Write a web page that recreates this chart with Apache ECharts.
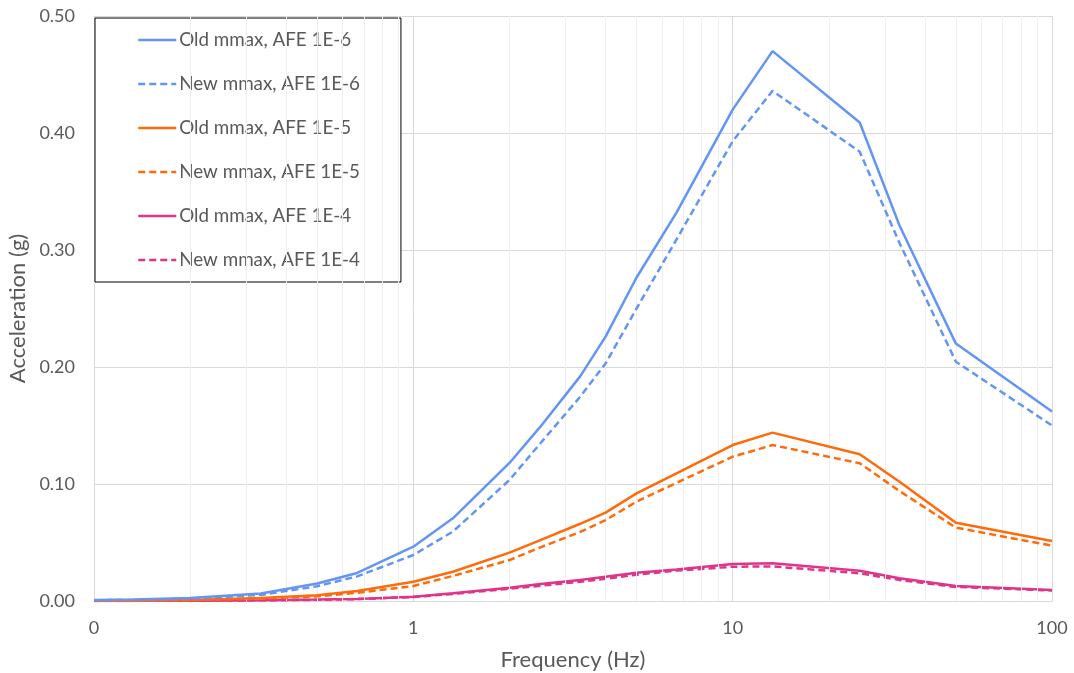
<!DOCTYPE html>
<html>
<head>
<meta charset="utf-8">
<script src="https://cdn.jsdelivr.net/npm/echarts@6/dist/echarts.min.js"></script>
<style>html,body{margin:0;padding:0;background:#fff}#c{width:1074px;height:673px}</style>
</head>
<body>
<div id="c"></div>
<script>
const freqs = [0.1, 0.133, 0.2, 0.333, 0.5, 0.667, 1, 1.33, 2, 2.5, 3.33, 4, 5, 6.67, 10, 13.33, 25, 33.3, 50, 100];
const oldAfe6 = [0.0008, 0.0012, 0.0025, 0.0065, 0.0150, 0.0240, 0.0464, 0.0707, 0.118, 0.149, 0.192, 0.226, 0.2765, 0.332, 0.420, 0.470, 0.409, 0.321, 0.220, 0.162];
const newAfe6 = [0.0006, 0.0010, 0.0020, 0.0052, 0.0126, 0.0210, 0.0393, 0.0593, 0.1034, 0.1348, 0.1746, 0.203, 0.250, 0.309, 0.393, 0.436, 0.384, 0.306, 0.2045, 0.150];
const oldAfe5 = [0.0002, 0.0003, 0.0008, 0.0025, 0.0050, 0.0085, 0.0165, 0.0250, 0.0413, 0.0521, 0.0660, 0.0755, 0.0920, 0.109, 0.1333, 0.1439, 0.1254, 0.102, 0.0669, 0.0513];
const newAfe5 = [0.0002, 0.0003, 0.0007, 0.0020, 0.0040, 0.0070, 0.0128, 0.0214, 0.0350, 0.0459, 0.0590, 0.0692, 0.0849, 0.101, 0.1233, 0.1333, 0.1177, 0.094, 0.0627, 0.0473];
const oldAfe4 = [0.0001, 0.0001, 0.0003, 0.0007, 0.0012, 0.0018, 0.0037, 0.0066, 0.0114, 0.0145, 0.0180, 0.0208, 0.0242, 0.0270, 0.0316, 0.0322, 0.0259, 0.0194, 0.0128, 0.0094];
const newAfe4 = [0.0001, 0.0001, 0.0002, 0.0006, 0.0010, 0.0016, 0.0034, 0.0060, 0.0105, 0.0130, 0.0165, 0.0190, 0.0225, 0.0260, 0.0293, 0.0296, 0.0237, 0.0180, 0.0120, 0.0090];
const seriesNames = ['Old mmax, AFE 1E-6', 'New mmax, AFE 1E-6', 'Old mmax, AFE 1E-5', 'New mmax, AFE 1E-5', 'Old mmax, AFE 1E-4', 'New mmax, AFE 1E-4'];
const minorGridX = [0.2,0.3,0.4,0.5,0.6,0.7,0.8,0.9,2,3,4,5,6,7,8,9,20,30,40,50,60,70,80,90];

const colors = ['#6495F5', '#6495F5', '#FF6A0A', '#FF6A0A', '#E0338A', '#E0338A'];
const values = [oldAfe6, newAfe6, oldAfe5, newAfe5, oldAfe4, newAfe4];
const font = 'Lato, "Liberation Sans", sans-serif';
const txt = '#595959';

const chart = echarts.init(document.getElementById('c'));
const series = values.map((v, i) => ({
  name: seriesNames[i],
  type: 'line',
  data: freqs.map((f, j) => [f, v[j]]),
  symbol: 'none',
  z: 3 + (5 - i),
  lineStyle: { color: colors[i], width: 2.5, type: i % 2 === 0 ? 'solid' : [7, 4] },
  itemStyle: { color: colors[i] }
}));
series.unshift({
  name: 'minor',
  type: 'line',
  data: [],
  z: 1,
  silent: true,
  markLine: {
    silent: true,
    symbol: 'none',
    label: { show: false },
    lineStyle: { color: '#eeeeee', width: 1, type: 'solid' },
    data: minorGridX.map(x => ({ xAxis: x }))
  }
});

chart.setOption({
  animation: false,
  grid: { left: 94, right: 22, top: 16, bottom: 72, containLabel: false, outerBoundsMode: 'none' },
  legend: {
    data: seriesNames,
    orient: 'vertical',
    left: 95,
    top: 18,
    padding: [11, 41, 11, 42],
    itemGap: 22,
    itemWidth: 38,
    itemHeight: 14,
    itemStyle: { opacity: 0 },
    lineStyle: { width: 2.5 },
    backgroundColor: '#ffffff',
    borderColor: '#000000',
    borderWidth: 1,
    borderRadius: 0,
    textStyle: { fontFamily: font, fontSize: 18.8, lineHeight: 22, color: txt, padding: [0, 0, 0, -2] }
  },
  xAxis: {
    type: 'log',
    logBase: 10,
    min: 0.1,
    max: 100,
    name: 'Frequency (Hz)',
    nameLocation: 'middle',
    nameGap: 48,
    nameTextStyle: { fontFamily: font, fontSize: 22, color: txt },
    axisLine: { show: true, lineStyle: { color: '#d9d9d9', width: 1 } },
    axisTick: { show: false },
    axisLabel: { fontFamily: font, fontSize: 18, color: txt, margin: 18,
      formatter: v => v < 1 ? '0' : String(Math.round(v)) },
    splitLine: { show: true, lineStyle: { color: '#d9d9d9', width: 1 } }
  },
  yAxis: {
    type: 'value',
    min: 0,
    max: 0.5,
    interval: 0.1,
    name: 'Acceleration (g)',
    nameLocation: 'middle',
    nameGap: 63,
    nameTextStyle: { fontFamily: font, fontSize: 22, color: txt },
    axisLine: { show: true, lineStyle: { color: '#d9d9d9', width: 1 } },
    axisTick: { show: false },
    axisLabel: { fontFamily: font, fontSize: 18, color: txt, margin: 19,
      formatter: v => v.toFixed(2) },
    splitLine: { show: true, lineStyle: { color: '#d9d9d9', width: 1 } }
  },
  series: series
});
</script>
</body>
</html>
